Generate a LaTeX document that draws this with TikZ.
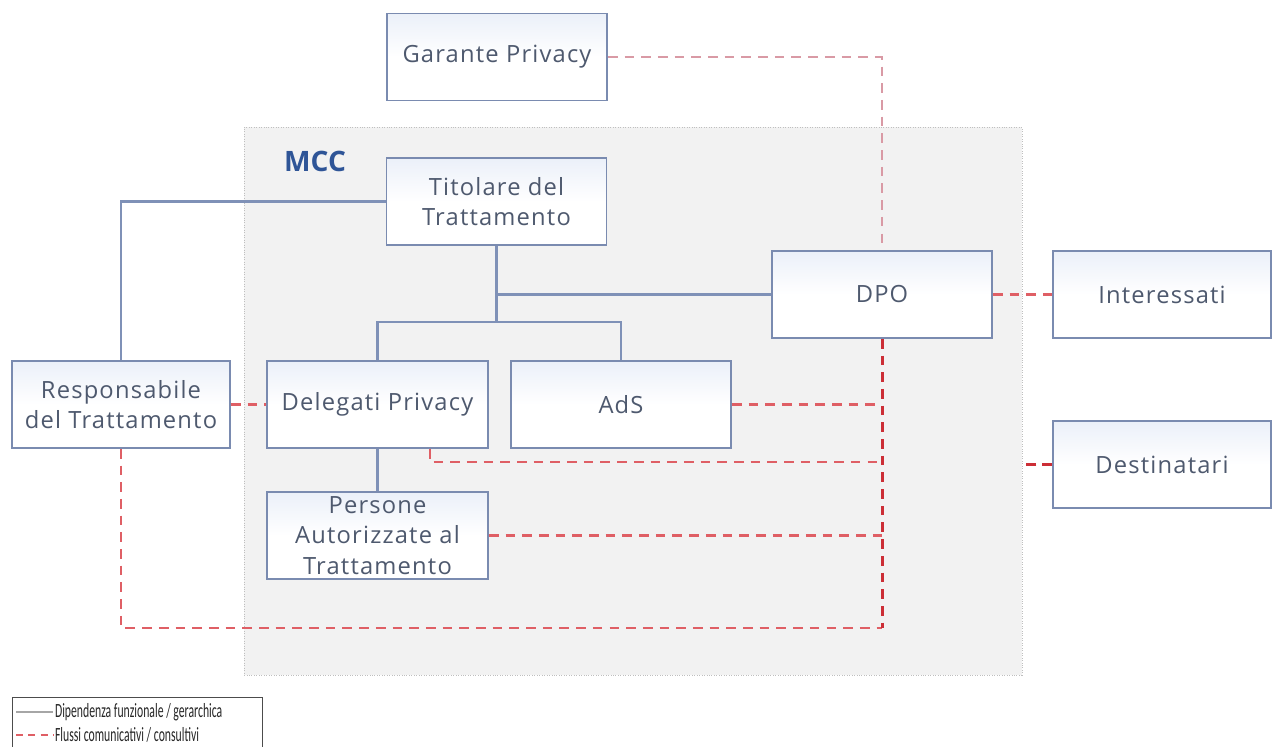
\documentclass[tikz,border=0pt]{standalone}
\usepackage{fontspec}
\setmainfont{Open Sans}[LetterSpace=5]
\newfontfamily\legfont{Carlito}[FakeStretch=0.58]
\newfontfamily\mccfont{Open Sans}
\definecolor{boxc}{HTML}{7A8BB0}
\definecolor{linec}{HTML}{7F91B7}
\definecolor{redc}{HTML}{DF5F65}
\definecolor{darkred}{HTML}{CC2E36}
\definecolor{pinkc}{HTML}{D99AA5}
\definecolor{txt}{HTML}{4E596E}
\definecolor{mccblue}{HTML}{2F5597}
\definecolor{bgc}{HTML}{F2F2F2}
\definecolor{boxtint}{HTML}{EBF0F9}
\tikzset{
  box/.style={draw=boxc, line width=1pt, minimum width=4.4cm, minimum height=1.74cm,
    inner sep=0pt, align=center, text=txt, font=\fontsize{13.5}{17.5}\selectfont,
    top color=boxtint, bottom color=white, middle color=white},
  hier/.style={draw=linec, line width=1.3pt},
  flow/.style={draw=redc, line width=1.3pt, dash pattern=on 5.5pt off 4pt},
}
\begin{document}
\begin{tikzpicture}[x=0.02cm,y=-0.02cm]
\useasboundingbox (0,0) rectangle (1272,747);
\clip (0,0) rectangle (1272,747);
% MCC area
\node (mcc) [draw=gray!50, densely dotted, fill=bgc, minimum width=15.56cm, minimum height=10.96cm, inner sep=0pt] at (633,401) {};
\node (mcclabel) [anchor=west, text=mccblue, font=\mccfont\bfseries\fontsize{16}{18}\selectfont] at (278,161) {MCC};
% boxes
\node (gar) [box] at (497,57) {Garante Privacy};
\node (tit) [box] at (496.5,201.5) {Titolare del\\Trattamento};
\node (dpo) [box] at (882,294.5) {DPO};
\node (int) [box, minimum width=4.36cm] at (1162,294.5) {Interessati};
\node (des) [box, minimum width=4.36cm] at (1162,464.5) {Destinatari};
\node (res) [box, minimum width=4.36cm] at (121,404.5) {Responsabile\\del Trattamento};
\node (del) [box, minimum width=4.42cm] at (377.5,404.5) {Delegati Privacy};
\node (ads) [box] at (621,404.5) {AdS};
\node (per) [box, minimum width=4.42cm] at (377.5,535.5) {Persone\\Autorizzate al\\Trattamento};
% helper coordinates
\coordinate (j1) at (tit.south |- dpo.west);
\coordinate (yj) at (0,322);
\coordinate (j2) at (tit.south |- yj);
\coordinate (yl) at (0,462);
\coordinate (yb) at (0,628);
\coordinate (dl) at (dpo.south |- yl);
\coordinate (bl) at (dpo.south |- yb);
\coordinate (mr) at (des.west -| mcc.east);
% hierarchy lines
\draw[hier] (tit.south) -- (j1) -- (dpo.west);
\draw[hier] (j1) -- (j2);
\draw[hier] (del.north) |- (j2) -| (ads.north);
\draw[hier] (tit.west) -| (res.north);
\draw[hier] (del.south) -- (per.north);
% communication flows
\draw[flow, draw=pinkc] (gar.east) -| (dpo.north);
\draw[flow] (dpo.east) -- (int.west);
\draw[flow] (res.east) -- (del.west);
\draw[flow] (ads.east) -- (ads.east -| dpo.south);
\draw[flow] ([xshift=1.05cm]del.south) |- (dl);
\draw[flow] (per.east) -- (per.east -| dpo.south);
\draw[flow] (res.south) |- (bl);
\draw[flow, draw=darkred, line width=1.7pt] (dpo.south) -- (bl);
\draw[flow, draw=darkred, line width=1.7pt, dash pattern=on 6pt off 3pt] (des.west) -- (mr);
% legend
\node (leg) [draw=black!70, line width=0.8pt, minimum width=5cm, minimum height=1.2cm, inner sep=0pt, anchor=north west] at (12,697) {};
\coordinate (l1a) at (16,712);
\coordinate (l1b) at (53,712);
\coordinate (l2a) at (16,735);
\coordinate (l2b) at (53,735);
\draw[draw=gray!70, line width=1.3pt] (l1a) -- (l1b);
\draw[flow, dash pattern=on 4pt off 3pt] (l2a) -- (l2b);
\node (t1) [anchor=west, inner sep=1pt, font=\legfont\fontsize{11.5}{12}\selectfont, text=black!85] at (l1b) {Dipendenza funzionale / gerarchica};
\node (t2) [anchor=west, inner sep=1pt, font=\legfont\fontsize{11.5}{12}\selectfont, text=black!85] at (l2b) {Flussi comunicativi / consultivi};
\end{tikzpicture}
\end{document}
